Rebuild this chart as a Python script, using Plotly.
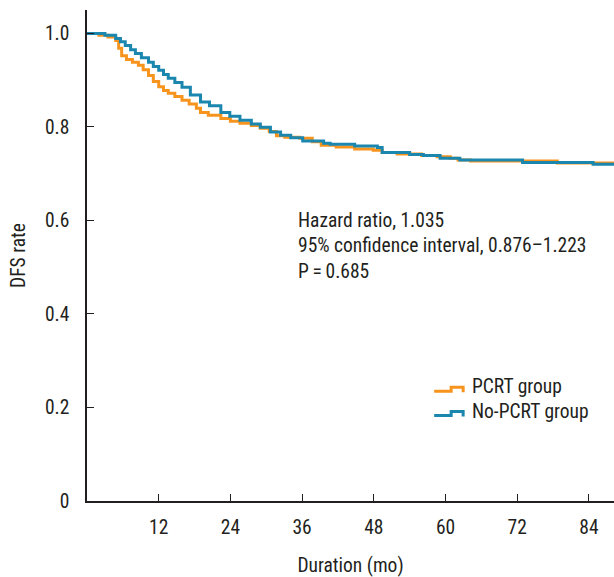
import plotly.graph_objects as go

# ---- data ----
pcrt_t = [0, 2.0, 3.5, 4.8, 5.3, 5.8, 6.6, 7.6, 8.6, 9.4, 10.3, 11.1, 12.0, 12.8, 13.6,
          14.7, 15.9, 17.1, 18.3, 19.0, 20.3, 22.4, 24.0, 25.6, 27.5, 29.0, 30.5, 31.7,
          33.1, 35.6, 37.7, 39.2, 41.7, 44.8, 47.9, 49.4, 51.9, 56.0, 58.6, 60.8, 62.1,
          64.2, 78.7, 88.2]
pcrt_s = [1.0, 0.996, 0.992, 0.985, 0.968, 0.952, 0.944, 0.938, 0.932, 0.922, 0.910,
          0.897, 0.886, 0.878, 0.872, 0.865, 0.857, 0.849, 0.840, 0.831, 0.825, 0.818,
          0.812, 0.808, 0.803, 0.797, 0.790, 0.781, 0.778, 0.776, 0.768, 0.761, 0.757,
          0.753, 0.750, 0.745, 0.742, 0.739, 0.736, 0.733, 0.729, 0.727, 0.723, 0.723]

nopcrt_t = [0, 3.0, 4.8, 5.6, 6.4, 7.3, 8.1, 9.1, 10.3, 11.1, 12.0, 12.8, 13.6, 14.7,
            15.9, 17.3, 19.0, 20.5, 22.4, 23.9, 25.6, 27.5, 29.0, 30.7, 32.4, 34.1, 36.1,
            39.6, 40.7, 44.8, 48.6, 49.4, 54.0, 56.3, 59.1, 62.4, 72.9, 84.7, 88.2]
nopcrt_s = [1.0, 0.996, 0.989, 0.982, 0.974, 0.965, 0.957, 0.948, 0.938, 0.929, 0.921,
            0.912, 0.904, 0.895, 0.885, 0.868, 0.853, 0.845, 0.831, 0.823, 0.814, 0.806,
            0.799, 0.789, 0.782, 0.777, 0.770, 0.765, 0.763, 0.759, 0.756, 0.745, 0.741,
            0.739, 0.733, 0.729, 0.724, 0.720, 0.720]

series_names = ["PCRT group", "No-PCRT group"]
x_ticks = [12, 24, 36, 48, 60, 72, 84]
y_ticks = [0, 0.2, 0.4, 0.6, 0.8, 1.0]
y_tick_text = ["0", "0.2", "0.4", "0.6", "0.8", "1.0"]
stats_lines = ["Hazard ratio, 1.035",
               "95% confidence interval, 0.876\u20131.223",
               "P\u2009=\u20090.685"]

ORANGE = "#F7941D"
BLUE = "#1B87AE"
TXT = "#231F20"
FONT = "Liberation Sans Narrow, Roboto Condensed, DejaVu Sans Condensed, Arial Narrow, sans-serif"
FS = 19.5

# plot area in pixels: left 86.5, right 614, top 10, bottom 501
L, R, T, B = 86.5, 614, 10, 501
def px(x):
    return (x - L) / (R - L)
def py(y):
    return (B - y) / (B - T)

fig = go.Figure()
fig.add_trace(go.Scatter(x=pcrt_t, y=pcrt_s, mode="lines", line=dict(color=ORANGE, width=3, shape="hv"),
                         name=series_names[0], showlegend=False))
fig.add_trace(go.Scatter(x=nopcrt_t, y=nopcrt_s, mode="lines", line=dict(color=BLUE, width=3, shape="hv"),
                         name=series_names[1], showlegend=False))

# statistics text
fig.add_annotation(xref="paper", yref="paper", x=px(296), y=py(207),
                   xanchor="left", yanchor="top", align="left", showarrow=False,
                   text="<br>".join(stats_lines), font=dict(family=FONT, size=FS, color=TXT))

# legend with step-shaped keys
for name, color, cy in zip(series_names, [ORANGE, BLUE], [386.7, 411.0]):
    fig.add_annotation(xref="paper", yref="paper", x=px(470), y=py(cy),
                       xanchor="left", yanchor="middle", showarrow=False,
                       text=name, font=dict(family=FONT, size=FS, color=TXT))
    pts = [(434, cy + 4.5), (451, cy + 4.5), (451, cy + 0.5), (463, cy + 0.5), (463, cy + 5.5)]
    path = "M " + " L ".join(f"{px(a):.5f},{py(b):.5f}" for a, b in pts)
    fig.add_shape(type="path", xref="paper", yref="paper", path=path,
                  line=dict(color=color, width=3), fillcolor="rgba(0,0,0,0)")

fig.update_layout(
    width=614, height=577,
    margin=dict(l=L, r=0, t=T, b=577 - B, autoexpand=False),
    paper_bgcolor="white", plot_bgcolor="white",
    font=dict(family=FONT, size=FS, color=TXT),
    showlegend=False,
    xaxis=dict(range=[0, 88.2], tickvals=x_ticks, ticks="inside", ticklen=7, tickcolor=TXT,
               showline=True, linecolor=TXT, linewidth=1.5, showgrid=False, zeroline=False,
               ticklabelstandoff=8, automargin=False,
               title=dict(text="Duration (mo)", standoff=20, font=dict(family=FONT, size=FS))),
    yaxis=dict(range=[0, 1.05], tickvals=y_ticks, ticktext=y_tick_text, ticks="inside", ticklen=7,
               tickcolor=TXT, showline=True, linecolor=TXT, linewidth=1.5,
               showgrid=False, zeroline=False, ticklabelstandoff=12, automargin=False,
               title=dict(text="DFS rate", standoff=14, font=dict(family=FONT, size=FS))),
)

fig.write_html("out.html", config={"displayModeBar": False},
               post_script="document.body.style.margin='0';")
